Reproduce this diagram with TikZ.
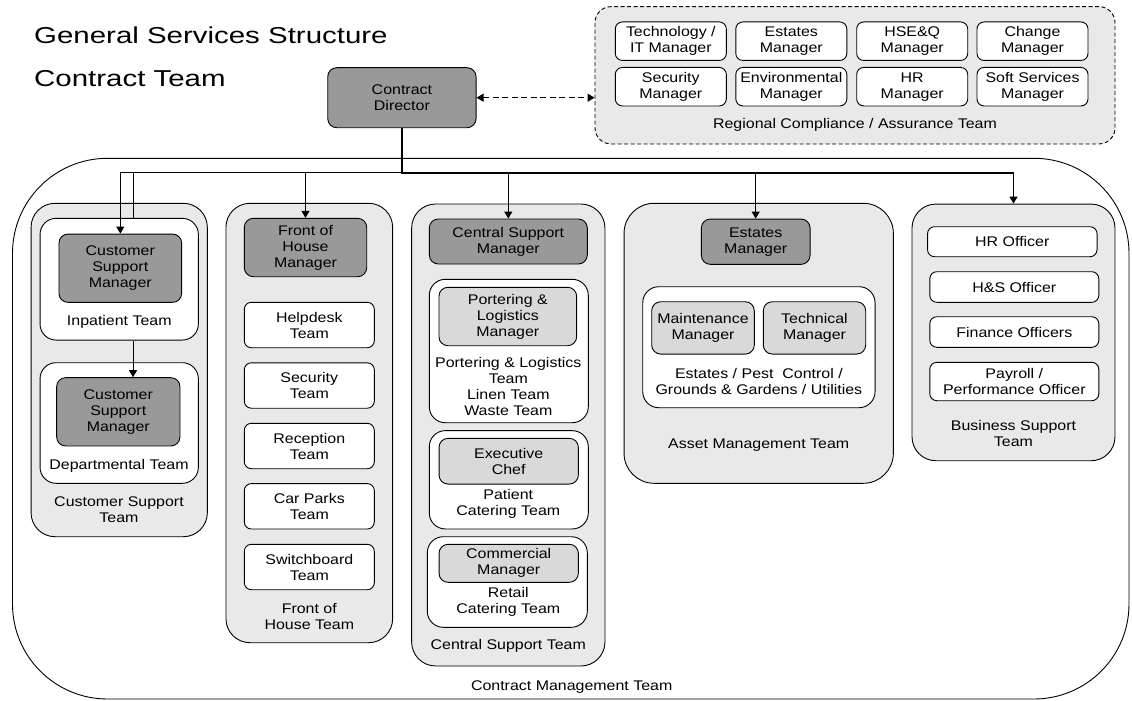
\documentclass[tikz,border=0pt]{standalone}
\usepackage{fontspec}
\setmainfont{Liberation Sans}[FakeStretch=1.14]
\newfontfamily\titlefont{Liberation Sans}[FakeStretch=1.28]
\usetikzlibrary{arrows.meta,positioning}
\definecolor{mgrgray}{RGB}{153,153,153}
\definecolor{subgray}{RGB}{217,217,217}
\definecolor{teamgray}{RGB}{233,233,233}
\tikzset{
  sz/.style 2 args={
    minimum width=#1,
    minimum height=#2
  },
  txt/.style={
    align=center,
    inner sep=0pt,
    font=\fontsize{14}{16}\selectfont
  },
  cmt/.style={
    draw,
    line width=0.9pt,
    rounded corners=95pt,
    inner sep=0pt
  },
  team/.style={
    txt,
    draw,
    line width=0.9pt,
    fill=teamgray,
    rounded corners=24pt
  },
  unit/.style={
    txt,
    draw,
    line width=0.9pt,
    fill=white,
    rounded corners=16pt
  },
  mgr/.style={
    txt,
    draw,
    line width=0.9pt,
    fill=mgrgray,
    rounded corners=9pt
  },
  submgr/.style={
    txt,
    draw,
    line width=0.9pt,
    fill=subgray,
    rounded corners=9pt
  },
  role/.style={
    txt,
    draw,
    line width=0.9pt,
    fill=white,
    rounded corners=7pt
  },
  caption/.style={
    txt
  },
  arrow/.style={
    -{Triangle[length=7pt,width=8pt]},
    line width=0.9pt
  },
  link/.style={
    line width=0.9pt
  },
  mainlink/.style={
    line width=1.8pt
  },
  dasharrow/.style={
    {Triangle[length=7pt,width=8pt]}-{Triangle[length=7pt,width=8pt]},
    line width=0.9pt,
    dash pattern=on 6pt off 3.5pt
  }
}

\begin{document}
\begin{tikzpicture}[x=1pt,y=-1pt]
\useasboundingbox (0,0) rectangle (1132,701);

\node[anchor=base west,inner sep=0pt,font=\titlefont\fontsize{23}{27}\selectfont] (title) at (34,43.3) {General Services Structure};
\node[anchor=base west,inner sep=0pt,font=\titlefont\fontsize{23}{27}\selectfont] (subtitle) at (34,86) {Contract Team};

\node[cmt,sz={1116.5}{540.7}] (cmt) at (570.75,428.65) {};
\node[caption] (cmtcap) at (571.7,686.7) {Contract Management Team};

\node[mgr,sz={148.3}{60}] (director) at (401.9,97.7) {Contract\\Director};

\node[team,dash pattern=on 4pt off 2.5pt,rounded corners=16pt,sz={520}{137.3}] (comp) at (855,75.3) {};
\node[role,sz={111}{38.5}] (itm) at (670.8,41.2) {Technology /\\IT Manager};
\node[role,sz={111}{38.5}] (estm) at (791.3,41.2) {Estates\\Manager};
\node[role,sz={111}{38.5}] (hseq) at (912.2,41.2) {HSE\&Q\\Manager};
\node[role,sz={111}{38.5}] (chm) at (1032.5,41.2) {Change\\Manager};
\node[role,sz={111}{38.5}] (secm) at (670.8,86.7) {Security\\Manager};
\node[role,sz={111}{38.5}] (envm) at (791.3,86.7) {Environmental\\Manager};
\node[role,sz={111}{38.5}] (hrm) at (912.2,86.7) {HR\\Manager};
\node[role,sz={111}{38.5}] (ssm) at (1032.5,86.7) {Soft Services\\Manager};
\node[caption] (compcap) at (855,125) {Regional Compliance / Assurance Team};

\draw[dasharrow] (director.east) -- (director.east -| comp.west);

% customer support
\node[team,sz={176.3}{333.4}] (custteam) at (119.2,370) {};
\node[unit,sz={158.3}{121.7}] (inpat) at (119.2,279.2) {};
\node[mgr,sz={122.7}{68.3}] (csm1) at (120.3,268.2) {Customer\\Support\\Manager};
\node[caption] (inpatcap) at (119.3,321.7) {Inpatient Team};
\node[unit,sz={158.3}{120.6}] (dept) at (119.2,423) {};
\node[mgr,sz={123.3}{68.3}] (csm2) at (118.3,411.8) {Customer\\Support\\Manager};
\node[caption] (deptcap) at (119,465.7) {Departmental Team};
\node[caption] (custcap) at (119,509.5) {Customer Support\\Team};

% front of house
\node[team,sz={166.7}{439.4}] (fohteam) at (309.3,423) {};
\node[mgr,sz={122.4}{58.4}] (fohm) at (305.5,247.5) {Front of\\House\\Manager};
\node[role,sz={130}{45.4}] (help) at (309.3,325) {Helpdesk\\Team};
\node[role,sz={130}{45.4}] (secteam) at (309.3,385.5) {Security\\Team};
\node[role,sz={130}{45.4}] (recep) at (309.3,446) {Reception\\Team};
\node[role,sz={130}{45.4}] (carpk) at (309.3,506.3) {Car Parks\\Team};
\node[role,sz={130}{45.4}] (swb) at (309.3,567) {Switchboard\\Team};
\node[caption] (fohcap) at (309.3,616) {Front of\\House Team};

% central support
\node[team,sz={193.3}{462}] (csteam) at (508.3,435) {};
\node[mgr,sz={158}{45}] (csman) at (508.3,241.5) {Central Support\\Manager};
\node[unit,sz={159}{143.4}] (port) at (508.8,351) {};
\node[submgr,sz={137.7}{58.4}] (portm) at (507.8,316.5) {Portering \&\\Logistics\\Manager};
\node[caption] (portcap) at (508.3,386.2) {Portering \& Logistics\\Team\\Linen Team\\Waste Team};
\node[unit,sz={159}{98.3}] (cater) at (508.8,479.8) {};
\node[submgr,sz={139.3}{45.7}] (chef) at (508.7,461.2) {Executive\\Chef};
\node[caption] (catercap) at (508.3,504.2) {Patient\\Catering Team};
\node[unit,sz={160}{90.6}] (retail) at (507.3,582) {};
\node[submgr,sz={139.3}{38}] (comm) at (508.7,563.3) {Commercial\\Manager};
\node[caption] (retailcap) at (508.3,602.2) {Retail\\Catering Team};
\node[caption] (cscap) at (508.3,646) {Central Support Team};

% asset management
\node[team,rounded corners=30pt,sz={269.3}{280}] (asset) at (758.7,343.3) {};
\node[mgr,sz={108.7}{45.3}] (estman) at (755.7,241.7) {Estates\\Manager};
\node[unit,sz={232.3}{121}] (estunit) at (758.9,347.2) {};
\node[submgr,sz={102.6}{52.3}] (maint) at (703,327.9) {Maintenance\\Manager};
\node[submgr,sz={102.4}{52.3}] (tech) at (814.5,327.9) {Technical\\Manager};
\node[caption] (estcap) at (758.9,381.3) {Estates / Pest\ \ Control /\\Grounds \& Gardens / Utilities};
\node[caption] (assetcap) at (758.7,445) {Asset Management Team};

% business support
\node[team,sz={203}{256.7}] (bus) at (1013.5,332.4) {};
\node[role,sz={169.5}{30}] (hro) at (1012.3,241.7) {HR Officer};
\node[role,sz={169}{30.6}] (hso) at (1014.3,287) {H\&S Officer};
\node[role,sz={169}{30.6}] (fin) at (1014.3,332) {Finance Officers};
\node[role,sz={169}{38.4}] (pay) at (1014.3,381.5) {Payroll /\\Performance Officer};
\node[caption] (buscap) at (1013.5,433.7) {Business Support\\Team};

\coordinate (hub) at (401.9,172.7);
\draw[mainlink] (director.south) -- (hub) -- (hub -| bus.north);
\draw[arrow] (hub) -| (csm1.north);
\draw[link] (hub) -| ([xshift=13.8pt]inpat.north);
\draw[arrow] (hub) -| (fohm.north);
\draw[arrow] (hub) -| (csman.north);
\draw[arrow] (hub) -| (estman.north);
\draw[arrow] (hub) -| (bus.north);
\draw[arrow] ([xshift=13.8pt]inpat.south) -- ([xshift=13.8pt]inpat.south |- csm2.north);
\end{tikzpicture}
\end{document}
